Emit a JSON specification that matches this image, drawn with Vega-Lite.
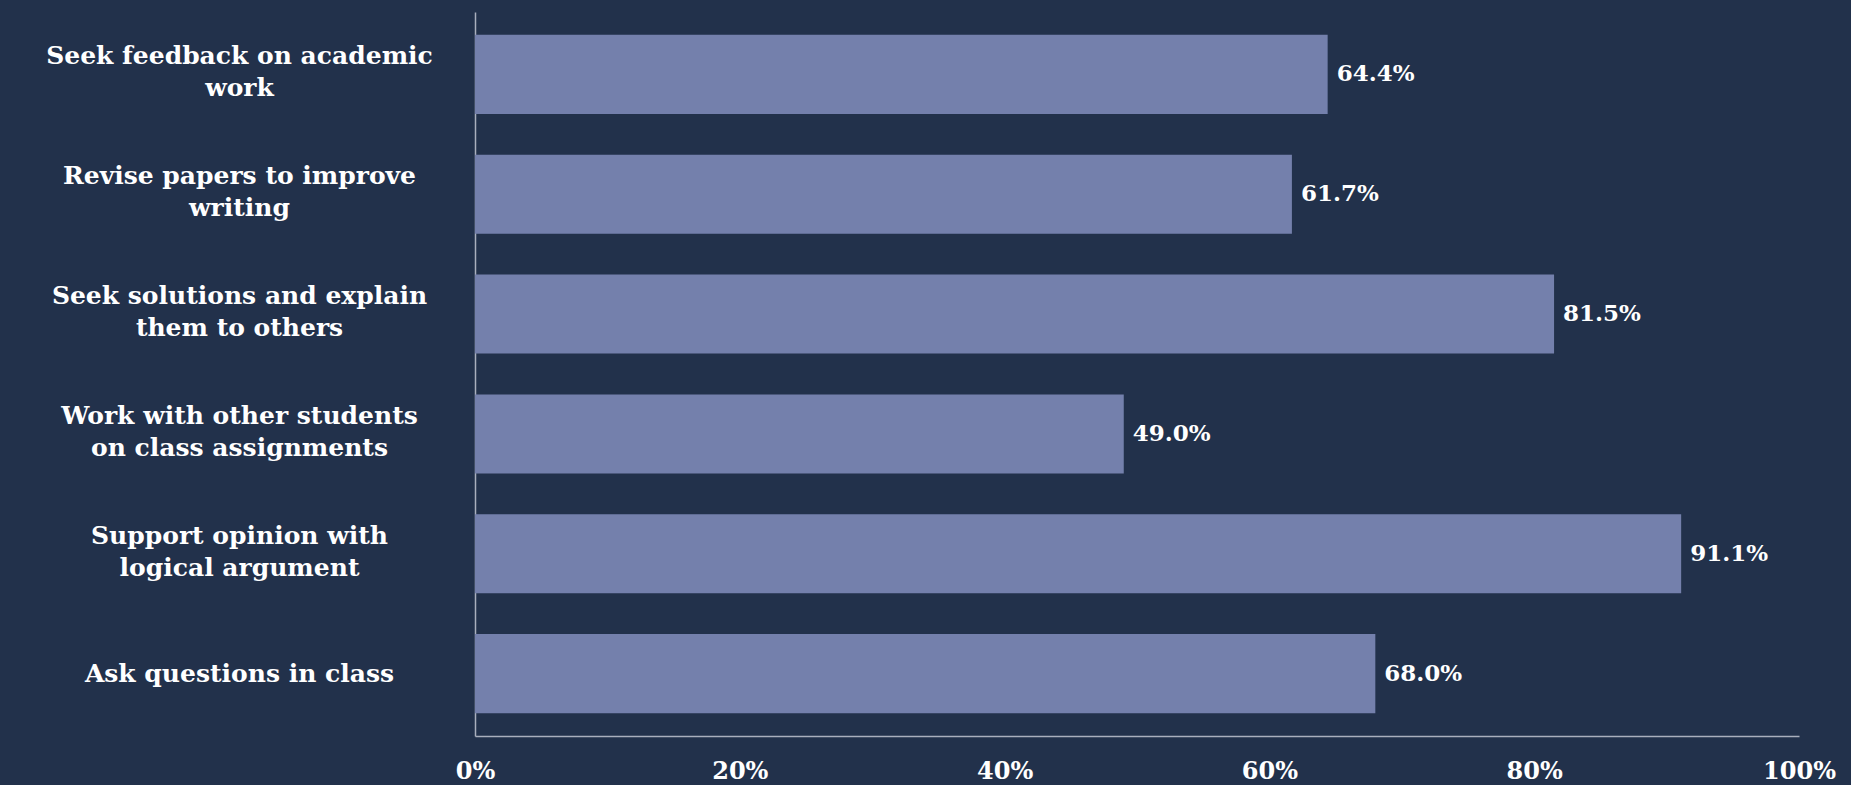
{
  "$schema": "https://vega.github.io/schema/vega-lite/v6.json",
  "width": 1324,
  "height": 724,
  "autosize": {"type": "none"},
  "padding": {"left": 475, "top": 12, "right": 52, "bottom": 49},
  "background": "#22314B",
  "config": {"view": {"stroke": null}, "font": "DejaVu Serif"},
  "data": {
    "values": [
      {"item": "Seek feedback on academic\nwork", "pct": 0.644},
      {"item": "Revise papers to improve\nwriting", "pct": 0.617},
      {"item": "Seek solutions and explain\nthem to others", "pct": 0.815},
      {"item": "Work with other students\non class assignments", "pct": 0.49},
      {"item": "Support opinion with\nlogical argument", "pct": 0.911},
      {"item": "Ask questions in class", "pct": 0.68}
    ]
  },
  "encoding": {
    "y": {
      "field": "item",
      "type": "nominal",
      "sort": null,
      "scale": {"paddingInner": 0.34, "paddingOuter": 0.19},
      "axis": {
        "title": null,
        "labelExpr": "split(datum.label, '\\n')",
        "labelAlign": "center",
        "labelBaseline": "middle",
        "labelPadding": 236,
        "labelOffset": {"condition": {"test": "indexof(datum.value, '\\n') >= 0", "value": -18}, "value": 0},
        "ticks": false,
        "domainColor": "#A9AFBD",
        "domainWidth": 1.5,
        "labelColor": "#FFFFFF",
        "labelFontSize": 25,
        "labelFontWeight": "bold",
        "labelLineHeight": 32,
        "labelLimit": 0
      }
    },
    "x": {
      "field": "pct",
      "type": "quantitative",
      "scale": {"domain": [0, 1], "nice": false},
      "axis": {
        "title": null,
        "values": [0, 0.2, 0.4, 0.6, 0.8, 1],
        "format": ".0%",
        "grid": false,
        "ticks": false,
        "labelFlush": false,
        "labelPadding": 23,
        "domainColor": "#A9AFBD",
        "domainWidth": 1.5,
        "labelColor": "#FFFFFF",
        "labelFontSize": 24,
        "labelFontWeight": "bold"
      }
    }
  },
  "layer": [
    {"mark": {"type": "bar", "color": "#7480AC"}},
    {
      "mark": {"type": "text", "align": "left", "dx": 9, "color": "#FFFFFF", "fontSize": 23, "fontWeight": "bold"},
      "encoding": {"text": {"field": "pct", "type": "quantitative", "format": ".1%"}}
    }
  ]
}
